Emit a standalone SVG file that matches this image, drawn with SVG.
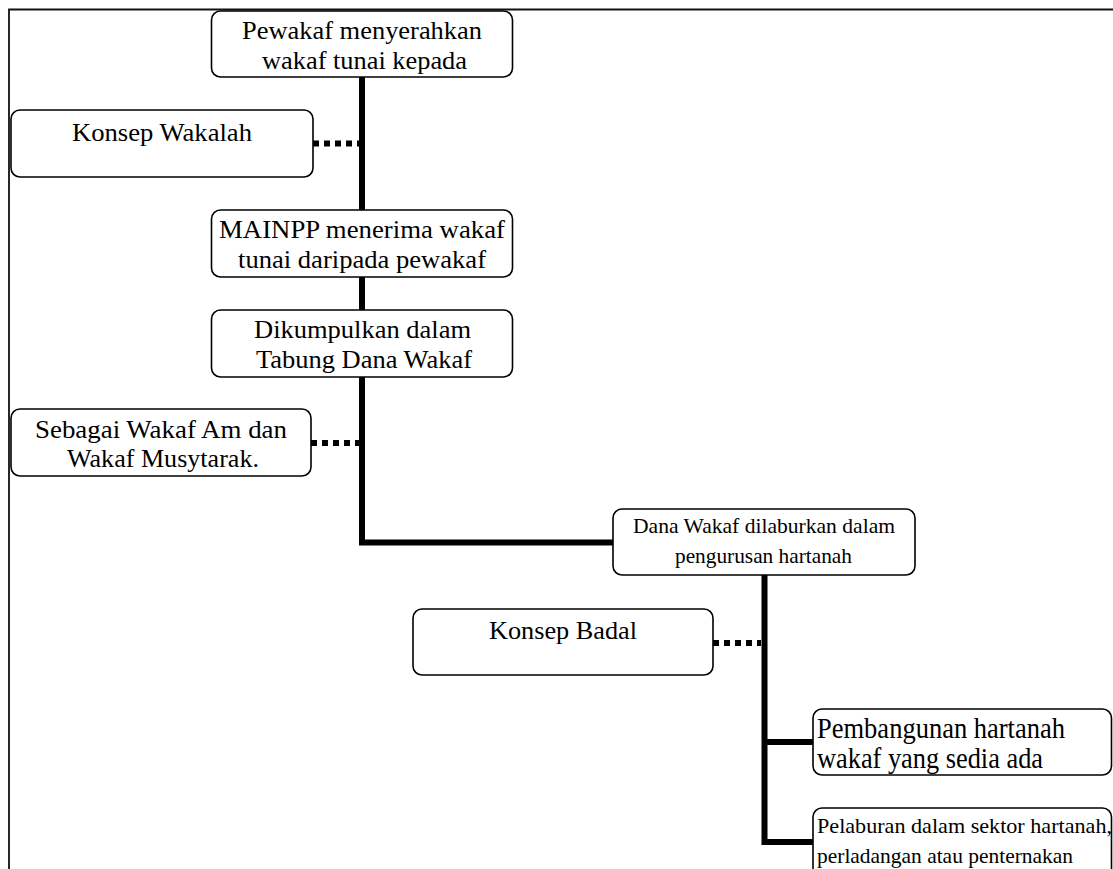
<svg xmlns="http://www.w3.org/2000/svg" width="1113" height="869" viewBox="0 0 1113 869">
  <style>
    .box { fill: #ffffff; stroke: #000000; stroke-width: 1.6; }
    .t { font-size: 26px; fill: #000000; text-anchor: middle; }
    .tb { font-size: 29px; fill: #000000; text-anchor: start; }
    .ts { font-size: 21px; fill: #000000; text-anchor: middle; }
    .l { text-anchor: start; }
    .conn { fill: none; stroke: #000000; stroke-width: 6; stroke-linejoin: miter; stroke-linecap: butt; }
    .dots { fill: none; stroke: #000000; stroke-width: 6; stroke-dasharray: 6 5; }
    .frame { fill: none; stroke: #111111; stroke-width: 1.8; }
  </style>
  <rect x="0" y="0" width="1113" height="869" fill="#ffffff"/>
  <path class="frame" d="M9 869 V9.5 H1113"/>

  <g id="connectors">
    <path class="conn" d="M362 77 V542.5 H613"/>
    <path class="conn" d="M764.5 575 V842 H813"/>
    <path class="conn" d="M764.5 742 H813"/>
    <path class="dots" d="M313 143.5 H359"/>
    <path class="dots" d="M311 443 H359"/>
    <path class="dots" d="M713 643 H761"/>
  </g>

  <g id="nodes" font-family="Liberation Serif, Times New Roman, serif">
  <g id="n-pewakaf">
    <rect class="box" x="211.5" y="11" width="301" height="66" rx="9"/>
    <text class="t" x="362" y="39" textLength="240" lengthAdjust="spacingAndGlyphs">Pewakaf menyerahkan</text>
    <text class="t" x="364.5" y="69" textLength="205" lengthAdjust="spacingAndGlyphs">wakaf tunai kepada</text>
  </g>

  <g id="n-wakalah">
    <rect class="box" x="11" y="110" width="302" height="67" rx="9"/>
    <text class="t" x="162" y="141" textLength="180" lengthAdjust="spacingAndGlyphs">Konsep Wakalah</text>
  </g>

  <g id="n-mainpp">
    <rect class="box" x="211.5" y="210" width="301" height="67" rx="9"/>
    <text class="t" x="362" y="238" textLength="286" lengthAdjust="spacingAndGlyphs">MAINPP menerima wakaf</text>
    <text class="t" x="362" y="268" textLength="248" lengthAdjust="spacingAndGlyphs">tunai daripada pewakaf</text>
  </g>

  <g id="n-dikumpulkan">
    <rect class="box" x="211.5" y="310" width="301" height="67" rx="9"/>
    <text class="t" x="362.5" y="338" textLength="217" lengthAdjust="spacingAndGlyphs">Dikumpulkan dalam</text>
    <text class="t" x="364" y="368" textLength="216" lengthAdjust="spacingAndGlyphs">Tabung Dana Wakaf</text>
  </g>

  <g id="n-sebagai">
    <rect class="box" x="11" y="409" width="300" height="67" rx="9"/>
    <text class="t" x="161" y="438" textLength="252" lengthAdjust="spacingAndGlyphs">Sebagai Wakaf Am dan</text>
    <text class="t" x="163" y="467" textLength="192" lengthAdjust="spacingAndGlyphs">Wakaf Musytarak.</text>
  </g>

  <g id="n-dana">
    <rect class="box" x="613" y="509" width="302" height="66" rx="9"/>
    <text class="ts" x="764" y="533" textLength="262" lengthAdjust="spacingAndGlyphs">Dana Wakaf dilaburkan dalam</text>
    <text class="ts" x="763.5" y="563" textLength="177" lengthAdjust="spacingAndGlyphs">pengurusan hartanah</text>
  </g>

  <g id="n-badal">
    <rect class="box" x="413" y="609" width="300" height="66" rx="9"/>
    <text class="t" x="563" y="639" textLength="148" lengthAdjust="spacingAndGlyphs">Konsep Badal</text>
  </g>

  <g id="n-pembangunan">
    <rect class="box" x="813" y="709" width="298.5" height="66" rx="9"/>
    <text class="tb" x="817" y="738" textLength="248" lengthAdjust="spacingAndGlyphs">Pembangunan hartanah</text>
    <text class="tb" x="817" y="768" textLength="226" lengthAdjust="spacingAndGlyphs">wakaf yang sedia ada</text>
  </g>

  <g id="n-pelaburan">
    <rect class="box" x="813" y="808" width="298.5" height="90" rx="9"/>
    <text class="ts l" x="817" y="833" textLength="295" lengthAdjust="spacingAndGlyphs">Pelaburan dalam sektor hartanah,</text>
    <text class="ts l" x="817" y="863" textLength="256" lengthAdjust="spacingAndGlyphs">perladangan atau penternakan</text>
  </g>
  </g>
</svg>
